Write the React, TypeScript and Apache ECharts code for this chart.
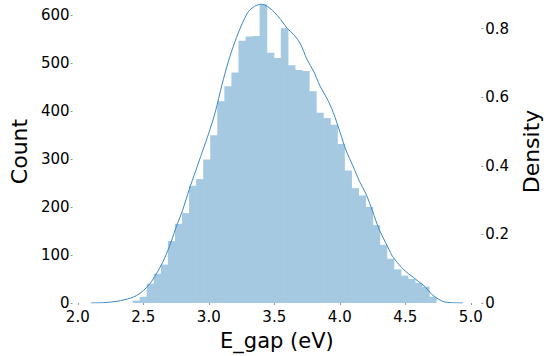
import React, { useEffect, useRef } from "react";
import * as echarts from "echarts";

// Histogram bins (E_gap in eV)
const binStart = 2.421;
const binWidth = 0.05386;
const counts = [
  5, 13, 40, 61, 80, 129, 165, 187, 244, 258, 299, 349, 420, 451, 480, 546, 555, 556, 622,
  521, 510, 572, 495, 485, 483, 441, 396, 385, 371, 331, 276, 239, 224, 200, 162, 121, 92,
  70, 57, 50, 42, 34, 13,
];

// KDE density curve
const kdeX = [
  2.1, 2.2, 2.3, 2.4, 2.45, 2.5, 2.55, 2.6, 2.65, 2.7, 2.75, 2.8, 2.85, 2.9, 2.95, 3.0, 3.05,
  3.1, 3.15, 3.2, 3.25, 3.3, 3.35, 3.4, 3.45, 3.5, 3.55, 3.6, 3.65, 3.7, 3.75, 3.8, 3.85, 3.9,
  3.95, 4.0, 4.05, 4.1, 4.15, 4.2, 4.25, 4.3, 4.35, 4.4, 4.45, 4.5, 4.55, 4.6, 4.65, 4.7, 4.75,
  4.8, 4.85, 4.94,
];
const kdeY = [
  0.0, 0.001, 0.005, 0.014, 0.022, 0.036, 0.056, 0.085, 0.12, 0.165, 0.22, 0.27, 0.33, 0.385,
  0.44, 0.495, 0.557, 0.635, 0.705, 0.762, 0.81, 0.848, 0.865, 0.871, 0.864, 0.848, 0.826,
  0.8, 0.782, 0.755, 0.71, 0.676, 0.632, 0.598, 0.556, 0.5, 0.443, 0.4, 0.355, 0.318, 0.268,
  0.215, 0.176, 0.138, 0.113, 0.093, 0.078, 0.063, 0.048, 0.026, 0.012, 0.003, 0.001, 0.0,
];

const xTicks = [2.0, 2.5, 3.0, 3.5, 4.0, 4.5, 5.0];
const countTicks = [0, 100, 200, 300, 400, 500, 600];
const densityTicks = [0, 0.2, 0.4, 0.6, 0.8];

const FONT = "DejaVu Sans";

export default function App() {
  const ref = useRef<HTMLDivElement>(null);

  useEffect(() => {
    document.body.style.margin = "0";
    if (!ref.current) return;
    const chart = echarts.init(ref.current, undefined, { renderer: "svg" });

    const barData = counts.map((c, i) => [
      binStart + i * binWidth,
      binStart + (i + 1) * binWidth,
      c,
    ]);
    const kdeData = kdeX.map((x, i) => [x, kdeY[i]]);

    const tickStyle = { show: true, length: 2, lineStyle: { color: "#999", width: 1 } };

    chart.setOption({
      animation: false,
      backgroundColor: "#ffffff",
      grid: { left: 60, right: 60, top: 0, bottom: 48 },
      xAxis: {
        type: "value",
        min: 1.96,
        max: 5.08,
        axisLine: { show: false },
        splitLine: { show: false },
        axisTick: { ...tickStyle, customValues: xTicks },
        axisLabel: {
          customValues: xTicks,
          formatter: (v: number) => v.toFixed(1),
          fontSize: 15,
          fontFamily: FONT,
          color: "#000",
          margin: 6,
        },
        name: "E_gap (eV)",
        nameLocation: "middle",
        nameGap: 27,
        nameTextStyle: { fontSize: 21, fontFamily: FONT, color: "#000" },
      },
      yAxis: [
        {
          type: "value",
          position: "left",
          min: 0,
          max: 630.8,
          axisLine: { show: false },
          splitLine: { show: false },
          axisTick: { ...tickStyle, customValues: countTicks },
          axisLabel: {
            customValues: countTicks,
            formatter: (v: number) => String(Math.round(v)),
            fontSize: 15,
            fontFamily: FONT,
            color: "#000",
            margin: 3,
          },
          name: "Count",
          nameLocation: "middle",
          nameRotate: 90,
          nameGap: 42,
          nameTextStyle: { fontSize: 22, fontFamily: FONT, color: "#000" },
        },
        {
          type: "value",
          position: "right",
          min: 0,
          max: 0.8833,
          axisLine: { show: false },
          splitLine: { show: false },
          axisTick: { ...tickStyle, customValues: densityTicks },
          axisLabel: {
            customValues: densityTicks,
            formatter: (v: number) => (v === 0 ? "0" : v.toFixed(1)),
            fontSize: 15,
            fontFamily: FONT,
            color: "#000",
            margin: 4,
          },
          name: "Density",
          nameLocation: "middle",
          nameRotate: 90,
          nameGap: 32,
          nameTextStyle: { fontSize: 22, fontFamily: FONT, color: "#000" },
        },
      ],
      series: [
        {
          type: "custom",
          xAxisIndex: 0,
          yAxisIndex: 0,
          data: barData,
          encode: { x: [0, 1], y: 2 },
          renderItem: (params: any, api: any) => {
            const p0 = api.coord([api.value(0), api.value(2)]);
            const p1 = api.coord([api.value(1), 0]);
            return {
              type: "rect",
              shape: {
                x: p0[0] - 0.3,
                y: p0[1],
                width: p1[0] - p0[0] + 0.6,
                height: p1[1] - p0[1],
              },
              style: { fill: "#a5c9e1" },
            };
          },
        },
        {
          type: "line",
          xAxisIndex: 0,
          yAxisIndex: 1,
          data: kdeData,
          smooth: 0.3,
          showSymbol: false,
          symbol: "none",
          lineStyle: { color: "#3a88c5", width: 1 },
          z: 3,
        },
      ],
    });

    return () => chart.dispose();
  }, []);

  return <div ref={ref} style={{ width: 550, height: 356 }} />;
}
